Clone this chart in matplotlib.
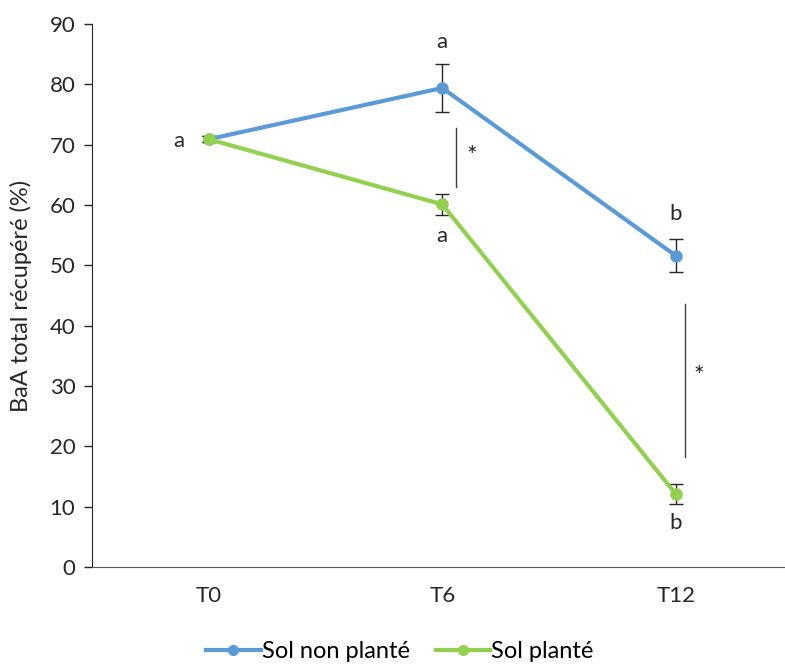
import matplotlib
matplotlib.use("Agg")
import matplotlib.pyplot as plt
from matplotlib.lines import Line2D

BLUE = "#5B9BD5"
GREEN = "#92D050"
TEXT = "#262626"

plt.rcParams["font.family"] = ["Lato", "DejaVu Sans"]

times = ["T0", "T6", "T12"]
non_plante = [70.9, 79.4, 51.6]
non_plante_err = [0.5, 4.0, 2.7]
plante = [70.9, 60.1, 12.1]
plante_err = [0.5, 1.7, 1.6]

# letters (x index, y value, text)
letters = [(-0.13, 70.6, "a"), (1, 87.0, "a"), (1, 54.9, "a"), (2, 58.5, "b"), (2, 7.3, "b")]
# significance bars (x, y_low, y_high) and star positions
sig_bars = [(1.06, 63.0, 72.7), (2.04, 18.3, 43.6)]
stars = [(1.125, 68.0), (2.098, 31.5)]

fig = plt.figure(figsize=(7.85, 6.64), dpi=100)
ax = fig.add_axes([92 / 785, 1 - 567 / 664, 693 / 785, 543 / 664])

x = list(range(len(times)))
ax.errorbar(x, non_plante, yerr=non_plante_err, color=BLUE, lw=3, marker="o", ms=8,
            ecolor=TEXT, elinewidth=1, capsize=5, capthick=1, zorder=3)
ax.errorbar(x, plante, yerr=plante_err, color=GREEN, lw=3, marker="o", ms=8,
            ecolor=TEXT, elinewidth=1, capsize=5, capthick=1, zorder=3)

for xi, yi, t in letters:
    ax.text(xi, yi, t, ha="center", va="center", fontsize=16, color=TEXT)
for xi, y0, y1 in sig_bars:
    ax.plot([xi, xi], [y0, y1], color="#404040", lw=1)
for xi, yi in stars:
    ax.text(xi, yi, "*", ha="center", va="center", fontsize=18, color=TEXT)

ax.set_xlim(-0.5, -0.5 + 693 / 233.5)
ax.set_ylim(0, 90)
ax.set_xticks(x)
ax.set_xticklabels(times)
ax.set_yticks(range(0, 91, 10))
ax.tick_params(axis="y", length=6, width=1, colors=TEXT, labelsize=16, pad=6)
ax.tick_params(axis="x", length=0, colors=TEXT, labelsize=16, pad=14)
ax.spines["top"].set_visible(False)
ax.spines["right"].set_visible(False)
ax.spines["left"].set_color("#262626")
ax.spines["bottom"].set_color("#595959")
ax.set_ylabel("BaA total récupéré (%)", fontsize=17, color=TEXT)
ax.yaxis.set_label_coords(-(92 - 32) / 693, 0.5)

handles = [Line2D([], [], color=BLUE, lw=3, marker="o", ms=7),
           Line2D([], [], color=GREEN, lw=3, marker="o", ms=7)]
fig.legend(handles, ["Sol non planté", "Sol planté"], loc="center", bbox_to_anchor=(400 / 785, 1 - 652 / 664),
           ncol=2, frameon=False, fontsize=17, handlelength=2.3, handletextpad=0.05, columnspacing=1.1)

fig.savefig("out.png", dpi=100)
